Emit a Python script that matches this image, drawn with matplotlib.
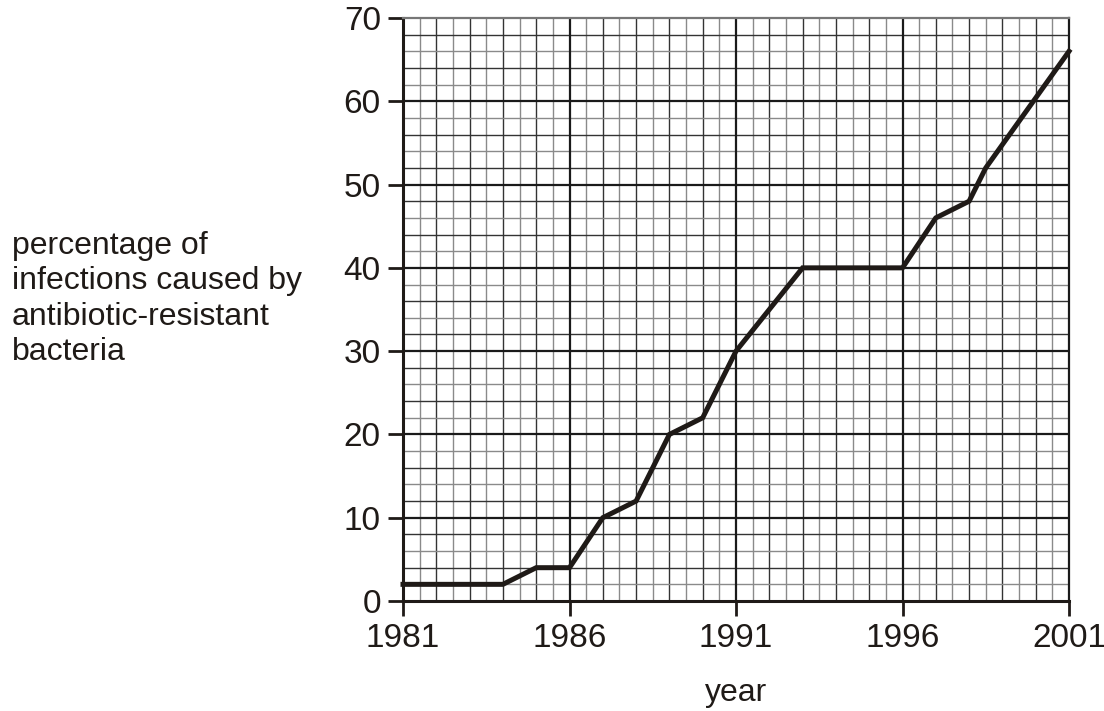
import numpy as np
import matplotlib
matplotlib.use("Agg")
import matplotlib.pyplot as plt

plt.rcParams['font.family'] = ['Liberation Sans', 'DejaVu Sans']

# values
years = [1981, 1982, 1983, 1984, 1985, 1986, 1987, 1988, 1989, 1990,
         1991, 1992, 1993, 1994, 1995, 1996, 1997, 1998, 1998.5, 2001]
percent = [2, 2, 2, 2, 4, 4, 10, 12, 20, 22,
           30, 35, 40, 40, 40, 40, 46, 48, 52, 66]

x_ticks = [1981, 1986, 1991, 1996, 2001]
y_ticks = [0, 10, 20, 30, 40, 50, 60, 70]
y_label = "percentage of\ninfections caused by\nantibiotic-resistant\nbacteria"
x_label = "year"

fig = plt.figure(figsize=(11.04, 7.11), dpi=100)
ax = fig.add_axes([403 / 1104, 1 - 601 / 711, 666 / 1104, 583 / 711])

ax.set_xlim(1981, 2001)
ax.set_ylim(0, 70)

# graph-paper grid
for xv in np.arange(1981.5, 2001, 0.5):
    if xv in x_ticks:
        continue
    col = '#333333' if xv % 1 == 0 else '#8a8a8a'
    ax.axvline(xv, color=col, lw=1.0, zorder=1)
for yv in np.arange(2, 70, 2):
    if yv % 10 == 0:
        continue
    col = '#333333' if yv % 4 == 0 else '#8a8a8a'
    ax.axhline(yv, color=col, lw=1.0, zorder=1)
for xv in x_ticks[1:-1]:
    ax.axvline(xv, color='#1a1a1a', lw=1.6, zorder=2)
for yv in y_ticks[1:-1]:
    ax.axhline(yv, color='#1a1a1a', lw=1.6, zorder=2)

ax.plot(years, percent, color='#1f1a17', lw=3.6, solid_joinstyle='miter',
        zorder=5, clip_on=False)

for side in ['left', 'bottom']:
    ax.spines[side].set_linewidth(2.2)
    ax.spines[side].set_color('#1f1a17')
ax.spines['right'].set_linewidth(1.6)
ax.spines['right'].set_color('#1a1a1a')
ax.spines['top'].set_linewidth(1.6)
ax.spines['top'].set_color('#777777')

ax.set_xticks(x_ticks)
ax.set_yticks(y_ticks)
ax.tick_params(axis='both', direction='out', length=11, width=2,
               color='#1f1a17', labelsize=24, labelcolor='#1f1a17')
ax.tick_params(axis='x', pad=5)
ax.tick_params(axis='y', pad=5)

fig.text(12 / 1104, 1 - 299 / 711, y_label, ha='left', va='center',
         fontsize=23, color='#1f1a17', linespacing=1.22)
fig.text(736 / 1104, 1 - 693 / 711, x_label, ha='center', va='center',
         fontsize=23, color='#1f1a17')

fig.savefig("out.png", dpi=100)
